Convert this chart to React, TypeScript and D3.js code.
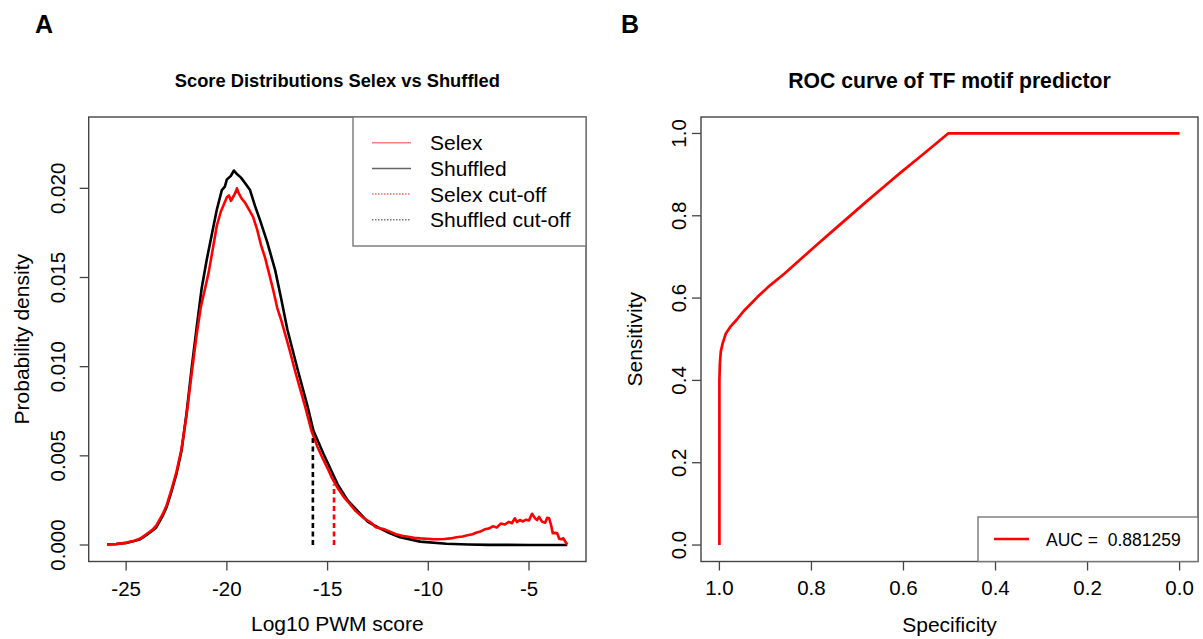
import React from 'react';
import * as d3 from 'd3';

// ---------- Panel A data (density of log10 PWM score) ----------
const shuffledX = [-25.95, -25.5, -25.0, -24.6, -24.3, -24.0, -23.7, -23.5, -23.2, -23.0, -22.75, -22.5, -22.25, -22.0, -21.75, -21.5, -21.25, -21.0, -20.75, -20.5, -20.25, -20.1, -20.0, -19.8, -19.65, -19.5, -19.3, -19.1, -18.85, -18.6, -18.35, -18.0, -17.6, -17.3, -17.0, -16.5, -16.0, -15.7, -15.2, -14.5, -14.0, -13.5, -13.0, -12.4, -11.9, -11.4, -10.4, -9.1, -8.0, -7.0, -5.0, -3.1];
const shuffledY = [0.00003, 0.00006, 0.00012, 0.00022, 0.00032, 0.00055, 0.0008, 0.001, 0.0016, 0.0021, 0.003, 0.004, 0.0053, 0.0074, 0.0099, 0.0122, 0.0144, 0.016, 0.0174, 0.0188, 0.0199, 0.0201, 0.0205, 0.0207, 0.021, 0.0208, 0.0206, 0.0203, 0.0199, 0.019, 0.0182, 0.017, 0.0154, 0.0138, 0.0121, 0.0099, 0.0078, 0.0064, 0.0051, 0.0034, 0.0025, 0.0019, 0.0013, 0.00093, 0.00066, 0.00043, 0.00019, 0.00007, 0.00003, 0.00001, 0.0, 0.0];

const selexX = [-25.95, -25.5, -25.0, -24.6, -24.3, -24.0, -23.7, -23.5, -23.2, -23.0, -22.75, -22.5, -22.25, -22.0, -21.75, -21.5, -21.3, -21.1, -20.9, -20.7, -20.5, -20.3, -20.15, -20.0, -19.9, -19.8, -19.7, -19.6, -19.5, -19.4, -19.25, -19.1, -18.9, -18.7, -18.5, -18.3, -18.1, -17.9, -17.7, -17.5, -17.3, -17.1, -16.9, -16.6, -16.3, -16.1, -15.8, -15.5, -15.3, -15.0, -14.8, -14.5, -14.2, -13.9, -13.6, -13.2, -12.9, -12.6, -12.2, -11.9, -11.6, -11.3, -11.0, -10.7, -10.4, -10.1, -9.8, -9.5, -9.2, -8.9, -8.6, -8.3, -8.0, -7.8, -7.6, -7.4, -7.2, -7.0, -6.8, -6.6, -6.4, -6.2, -6.0, -5.85, -5.7, -5.6, -5.45, -5.3, -5.15, -5.0, -4.85, -4.7, -4.6, -4.5, -4.35, -4.2, -4.1, -4.0, -3.9, -3.82, -3.7, -3.6, -3.5, -3.4, -3.3, -3.2, -3.1];
const selexY = [0.00003, 0.00005, 0.00012, 0.00024, 0.00036, 0.0006, 0.00085, 0.0011, 0.0017, 0.0022, 0.0031, 0.0041, 0.0054, 0.0073, 0.0096, 0.0118, 0.0133, 0.0143, 0.0153, 0.0166, 0.0179, 0.0187, 0.0191, 0.0195, 0.0196, 0.0193, 0.0195, 0.0197, 0.02, 0.0197, 0.0194, 0.0192, 0.0188, 0.0184, 0.0177, 0.0168, 0.0161, 0.0152, 0.0143, 0.0133, 0.0126, 0.0118, 0.011, 0.0097, 0.0085, 0.0077, 0.0064, 0.0055, 0.005, 0.0043, 0.0038, 0.0032, 0.0027, 0.0023, 0.0019, 0.0015, 0.0013, 0.001, 0.00088, 0.00075, 0.0006, 0.00052, 0.00046, 0.0004, 0.00037, 0.00035, 0.00033, 0.00032, 0.00034, 0.00037, 0.00043, 0.00048, 0.00056, 0.0006, 0.0007, 0.00076, 0.00088, 0.00092, 0.00105, 0.00098, 0.0012, 0.00115, 0.0013, 0.00122, 0.0015, 0.00128, 0.0014, 0.00132, 0.00142, 0.00138, 0.00175, 0.0015, 0.0014, 0.00158, 0.0013, 0.00125, 0.00152, 0.0015, 0.0011, 0.00066, 0.00068, 0.00066, 0.00035, 0.00032, 0.00038, 0.0002, 0.00003];

const cutoffScores = [-14.68, -15.73]; // Selex, Shuffled
const cutoffDensities = [0.0034, 0.0062];
const xTicksA = [-25, -20, -15, -10, -5];
const yTicksA = [0, 0.005, 0.01, 0.015, 0.02];
const legendLabelsA = ['Selex', 'Shuffled', 'Selex cut-off', 'Shuffled cut-off'];

// ---------- Panel B data (ROC curve) ----------
const rocSpecificity = [1.0, 1.0, 0.999, 0.997, 0.993, 0.986, 0.975, 0.962, 0.946, 0.93, 0.917, 0.89, 0.859, 0.82, 0.787, 0.75, 0.715, 0.68, 0.642, 0.605, 0.57, 0.535, 0.503, 0.4, 0.2, 0.0];
const rocSensitivity = [0.0, 0.4, 0.44, 0.47, 0.49, 0.514, 0.532, 0.548, 0.57, 0.588, 0.603, 0.631, 0.659, 0.698, 0.731, 0.767, 0.801, 0.835, 0.871, 0.906, 0.938, 0.97, 1.0, 1.0, 1.0, 1.0];
const ticksB = [0, 0.2, 0.4, 0.6, 0.8, 1.0];
const aucLabel = 'AUC =  0.881259';

const FONT = '"Liberation Sans", Arial, Helvetica, sans-serif';
const AXIS = '#444';

export default function App() {
  // Panel A geometry
  const A = { l: 88.7, r: 586, t: 117, b: 561.5 };
  const xA = d3.scaleLinear().domain([-26.86, -2.17]).range([A.l, A.r]);
  const yA = d3.scaleLinear().domain([-0.000925, 0.024]).range([A.b, A.t]);
  const lineA = d3.line<[number, number]>().x(d => xA(d[0])).y(d => yA(d[1]));
  const shuffledPts = shuffledX.map((x, i) => [x, shuffledY[i]] as [number, number]);
  const selexPts = selexX.map((x, i) => [x, selexY[i]] as [number, number]);

  // Panel B geometry
  const B = { l: 701, r: 1198, t: 117, b: 561.5 };
  const xB = d3.scaleLinear().domain([1.04, -0.04]).range([B.l, B.r]);
  const yB = d3.scaleLinear().domain([-0.04, 1.04]).range([B.b, B.t]);
  const lineB = d3.line<[number, number]>().x(d => xB(d[0])).y(d => yB(d[1]));
  const rocPts = rocSpecificity.map((s, i) => [s, rocSensitivity[i]] as [number, number]);

  const tickLen = 9;
  const fmtA = d3.format('.3f');
  const fmtB = d3.format('.1f');
  const legendColors = ['rgba(255,0,0,0.5)', '#666', 'rgba(255,0,0,0.6)', '#777'];
  const legendDash = ['none', 'none', '1.5,1.5', '1.5,1.5'];

  return (
    <svg width={1203} height={639} style={{ position: 'fixed', left: 0, top: 0, background: '#fff' }} fontFamily={FONT}>
      <rect x={0} y={0} width={1203} height={639} fill="#fff" />
      {/* Panel letters */}
      <text x={35} y={33} fontSize={25} fontWeight="bold">A</text>
      <text x={621} y={33} fontSize={25} fontWeight="bold">B</text>

      {/* ---------- Panel A ---------- */}
      <text x={(A.l + A.r) / 2} y={87} fontSize={18.3} fontWeight="bold" textAnchor="middle">Score Distributions Selex vs Shuffled</text>
      <path d={lineA(shuffledPts) || ''} fill="none" stroke="#000" strokeWidth={2.6} strokeLinejoin="round" />
      <path d={lineA(selexPts) || ''} fill="none" stroke="#f00" strokeWidth={2.6} strokeLinejoin="round" />
      {cutoffScores.map((c, i) => (
        <line key={i} x1={xA(c)} x2={xA(c)} y1={yA(0)} y2={yA(cutoffDensities[i])}
          stroke={i === 0 ? '#f00' : '#000'} strokeWidth={2.6} strokeDasharray="5,3.5" />
      ))}
      <rect x={A.l} y={A.t} width={A.r - A.l} height={A.b - A.t} fill="none" stroke={AXIS} strokeWidth={1.4} />
      {xTicksA.map(t => (
        <g key={t}>
          <line x1={xA(t)} x2={xA(t)} y1={A.b} y2={A.b + tickLen} stroke={AXIS} strokeWidth={1.3} />
          <text x={xA(t)} y={596} fontSize={20.5} textAnchor="middle">{t}</text>
        </g>
      ))}
      {yTicksA.map(t => (
        <g key={t}>
          <line x1={A.l} x2={A.l - tickLen} y1={yA(t)} y2={yA(t)} stroke={AXIS} strokeWidth={1.3} />
          <text transform={`translate(65,${yA(t)}) rotate(-90)`} fontSize={20.5} textAnchor="middle">{fmtA(t)}</text>
        </g>
      ))}
      <text x={(A.l + A.r) / 2} y={631} fontSize={21} textAnchor="middle">Log10 PWM score</text>
      <text transform={`translate(29,${(A.t + A.b) / 2}) rotate(-90)`} fontSize={21} textAnchor="middle">Probability density</text>
      {/* Legend A */}
      <rect x={353} y={A.t} width={A.r - 353} height={246 - A.t} fill="#fff" stroke="#777" strokeWidth={1.4} />
      {legendLabelsA.map((lab, i) => {
        const y = 142.7 + i * 25.7;
        return (
          <g key={lab}>
            <line x1={372} x2={411} y1={y} y2={y} stroke={legendColors[i]} strokeWidth={1.5} strokeDasharray={legendDash[i]} />
            <text x={430} y={y + 7.5} fontSize={21}>{lab}</text>
          </g>
        );
      })}

      {/* ---------- Panel B ---------- */}
      <text x={(B.l + B.r) / 2} y={88} fontSize={21.2} fontWeight="bold" textAnchor="middle">ROC curve of TF motif predictor</text>
      <path d={lineB(rocPts) || ''} fill="none" stroke="#f00" strokeWidth={2.7} strokeLinejoin="round" />
      <rect x={B.l} y={B.t} width={B.r - B.l} height={B.b - B.t} fill="none" stroke={AXIS} strokeWidth={1.4} />
      {ticksB.map(t => (
        <g key={'x' + t}>
          <line x1={xB(t)} x2={xB(t)} y1={B.b} y2={B.b + tickLen} stroke={AXIS} strokeWidth={1.3} />
          <text x={xB(t)} y={595} fontSize={20.5} textAnchor="middle">{fmtB(t)}</text>
        </g>
      ))}
      {ticksB.map(t => (
        <g key={'y' + t}>
          <line x1={B.l} x2={B.l - tickLen} y1={yB(t)} y2={yB(t)} stroke={AXIS} strokeWidth={1.3} />
          <text transform={`translate(686,${yB(t)}) rotate(-90)`} fontSize={20.5} textAnchor="middle">{fmtB(t)}</text>
        </g>
      ))}
      <text x={(B.l + B.r) / 2} y={632} fontSize={21} textAnchor="middle">Specificity</text>
      <text transform={`translate(642,${(B.t + B.b) / 2}) rotate(-90)`} fontSize={21} textAnchor="middle">Sensitivity</text>
      {/* Legend B */}
      <rect x={978} y={517} width={B.r - 978} height={B.b - 517} fill="#fff" stroke="#777" strokeWidth={1.4} />
      <line x1={994} x2={1029} y1={539} y2={539} stroke="#f00" strokeWidth={2.7} />
      <text x={1046} y={545.5} fontSize={17.5} style={{ whiteSpace: 'pre' }}>{aucLabel}</text>
    </svg>
  );
}
